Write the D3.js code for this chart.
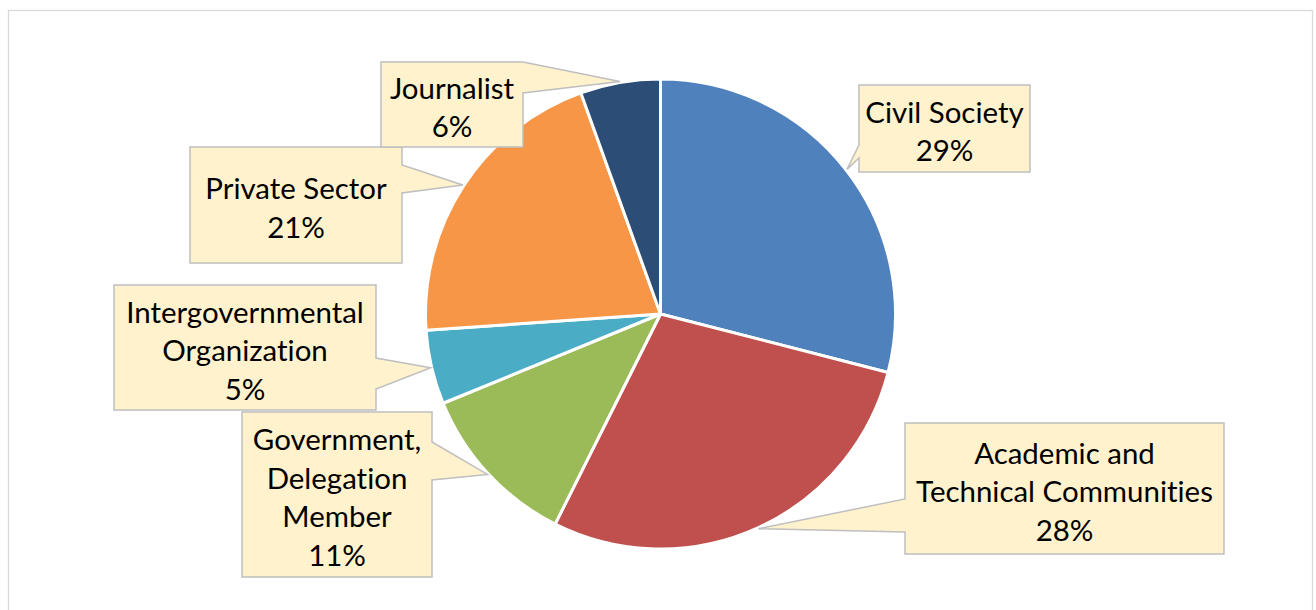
<!DOCTYPE html>
<html>
<head>
<meta charset="utf-8">
<script src="https://cdn.jsdelivr.net/npm/d3@7"></script>
<style>
  html, body { margin: 0; padding: 0; background: #ffffff; }
  svg { display: block; }
  text { font-variant-ligatures: none; font-feature-settings: "liga" 0, "clig" 0; }
</style>
</head>
<body>
<svg id="chart" width="1316" height="610"></svg>
<script>
// ---- data ----
const categories = ["Civil Society", "Academic and Technical Communities", "Government, Delegation Member", "Intergovernmental Organization", "Private Sector", "Journalist"];
const shares = [29.0, 28.4, 11.4, 5.1, 20.6, 5.5];
const pctLabels = ["29%", "28%", "11%", "5%", "21%", "6%"];
const labelLines = [
  ["Civil Society"],
  ["Academic and", "Technical Communities"],
  ["Government,", "Delegation", "Member"],
  ["Intergovernmental", "Organization"],
  ["Private Sector"],
  ["Journalist"]
];
const colors = ["#4F81BD", "#C0504D", "#9BBB59", "#4BACC6", "#F79646", "#2C4D75"];

// ---- layout (callout boxes) ----
const callouts = [
  { x: 859, y: 85,  w: 171, h: 87,  side: "left",  b0: 145, b1: 158 },
  { x: 905, y: 423, w: 319, h: 131, side: "left",  b0: 499, b1: 532 },
  { x: 242, y: 412, w: 190, h: 165, side: "right", b0: 442, b1: 480 },
  { x: 114, y: 285, w: 262, h: 125, side: "right", b0: 358, b1: 389 },
  { x: 190, y: 147, w: 212, h: 116, side: "right", b0: 165, b1: 193 },
  { x: 381, y: 62,  w: 142, h: 85,  side: "right", b0: 62,  b1: 93 }
];

const cx = 660.5, cy = 314, R = 235;
const svg = d3.select("#chart");

svg.append("rect")
  .attr("x", 8.5).attr("y", 10.5).attr("width", 1304).attr("height", 700)
  .attr("fill", "#ffffff").attr("stroke", "#D9D9D9").attr("stroke-width", 1.3);

const pie = d3.pie().sort(null).value(d => d);
const arcs = pie(shares);
const arc = d3.arc().innerRadius(0).outerRadius(R);

const g = svg.append("g").attr("transform", `translate(${cx},${cy})`);
g.selectAll("path.slice")
  .data(arcs)
  .join("path")
  .attr("class", "slice")
  .attr("d", arc)
  .attr("fill", (d, i) => colors[i])
  .attr("stroke", "#ffffff")
  .attr("stroke-width", 3)
  .attr("stroke-linejoin", "round");

// font sizing: fit the widest reference line
const fontFamily = "Lato, 'Open Sans', sans-serif";
const probe = svg.append("text").attr("font-family", fontFamily).attr("font-size", 100)
  .text("Technical Communities");
const probeW = probe.node().getComputedTextLength();
probe.remove();
const fs = 100 * 297 / probeW;
const lineH = 38.5;

const lab = svg.append("g");
arcs.forEach((a, i) => {
  const c = callouts[i];
  const mid = (a.startAngle + a.endAngle) / 2;
  const tr = R + 1;
  const tx = cx + tr * Math.sin(mid), ty = cy - tr * Math.cos(mid);
  let p;
  if (c.side === "right") {
    const xr = c.x + c.w;
    p = `M${c.x},${c.y}L${xr},${c.y}L${xr},${c.b0}L${tx},${ty}L${xr},${c.b1}L${xr},${c.y + c.h}L${c.x},${c.y + c.h}Z`;
  } else {
    p = `M${c.x},${c.y}L${c.x + c.w},${c.y}L${c.x + c.w},${c.y + c.h}L${c.x},${c.y + c.h}L${c.x},${c.b1}L${tx},${ty}L${c.x},${c.b0}Z`;
  }
  lab.append("path").attr("d", p)
    .attr("fill", "#FFF2CC").attr("stroke", "#BFBFBF").attr("stroke-width", 1.5)
    .attr("stroke-linejoin", "miter");

  const lines = labelLines[i].concat([pctLabels[i]]);
  const centerY = c.y + c.h / 2 + 3;
  const firstY = centerY - (lines.length - 1) * lineH / 2;
  const t = lab.append("text")
    .attr("font-family", fontFamily)
    .attr("font-size", fs)
    .attr("fill", "#000000")
    .attr("text-anchor", "middle");
  lines.forEach((ln, k) => {
    t.append("tspan")
      .attr("x", c.x + c.w / 2)
      .attr("y", firstY + k * lineH + fs * 0.36)
      .text(ln);
  });
});
</script>
</body>
</html>
